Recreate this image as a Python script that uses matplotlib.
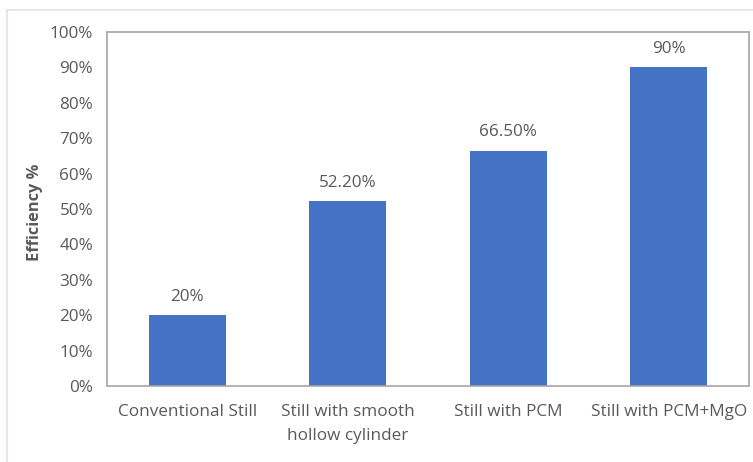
import matplotlib
matplotlib.use("Agg")
import matplotlib.pyplot as plt
from matplotlib.lines import Line2D
from matplotlib.ticker import PercentFormatter

categories = ["Conventional Still", "Still with smooth\nhollow cylinder",
              "Still with PCM", "Still with PCM+MgO"]
efficiency = [20.0, 52.2, 66.5, 90.0]
value_labels = ["20%", "52.20%", "66.50%", "90%"]
y_ticks = list(range(0, 101, 10))

plt.rcParams["font.family"] = ["Open Sans", "DejaVu Sans"]
text_color = "#595959"
bar_color = "#4472C4"
fs = 12.3

W, H = 753, 462
fig = plt.figure(figsize=(W / 100, H / 100), dpi=100)
fig.patch.set_facecolor("white")

# thin outer frame along the top and left edges
fig.add_artist(Line2D([7 / W, 1.0], [1 - 10 / H, 1 - 10 / H], transform=fig.transFigure,
                      color="#dfe3ea", lw=1.2))
fig.add_artist(Line2D([7 / W, 7 / W], [0.0, 1 - 10 / H], transform=fig.transFigure,
                      color="#dfe3ea", lw=1.2))

left, right, top, bottom = 107, 749, 32, 386
ax = fig.add_axes([left / W, 1 - bottom / H, (right - left) / W, (bottom - top) / H])

x = range(len(categories))
bars = ax.bar(x, efficiency, width=0.48, color=bar_color)
for b, lab in zip(bars, value_labels):
    ax.text(b.get_x() + b.get_width() / 2, b.get_height() + 3.0, lab,
            ha="center", va="bottom", fontsize=fs, color=text_color)

ax.set_xlim(-0.5, len(categories) - 0.5)
ax.set_ylim(0, 100)
ax.set_yticks(y_ticks)
ax.yaxis.set_major_formatter(PercentFormatter(decimals=0))
ax.set_xticks(list(x))
ax.set_xticklabels(categories, fontsize=fs, color=text_color, linespacing=1.7)
ax.tick_params(axis="y", labelsize=fs, labelcolor=text_color, length=0, pad=10)
ax.tick_params(axis="x", length=0, pad=13)

for s in ax.spines.values():
    s.set_color("#a6a6a6")
    s.set_linewidth(1.2)

ax.set_ylabel("Efficiency %", fontsize=11.8, fontweight="bold", color=text_color)
ax.yaxis.set_label_coords(-0.100, 0.49)

fig.savefig("out.png", dpi=100)
